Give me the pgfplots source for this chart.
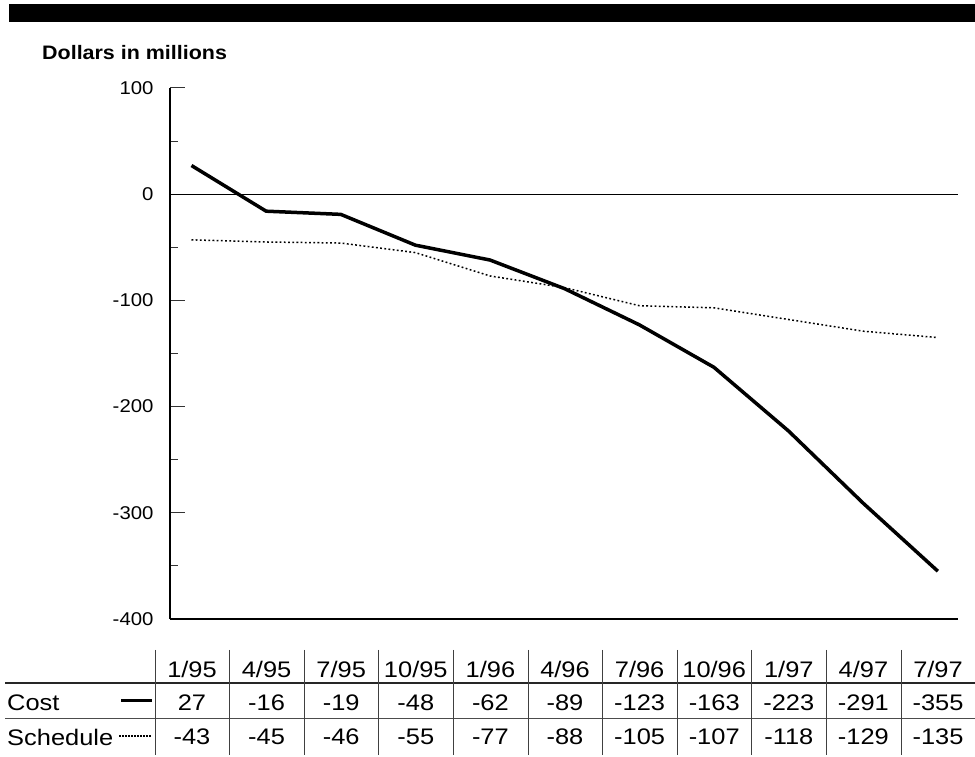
\documentclass[border=0pt]{standalone}
\usepackage{fontspec}
\setmainfont{Liberation Sans}[FakeStretch=1.1]
\newfontfamily\tablefont{Liberation Sans}[FakeStretch=1.13]
\usepackage{pgfplots}
\usepackage{pgfplotstable}
\pgfplotsset{compat=1.18}

% quarter, cost variance, schedule variance (dollars in millions)
\pgfplotstableread{
x cost sched
0 27 -43
1 -16 -45
2 -19 -46
3 -48 -55
4 -62 -77
5 -89 -88
6 -123 -105
7 -163 -107
8 -223 -118
9 -291 -129
10 -355 -135
}\variance

\begin{document}
\begin{tikzpicture}
\path[use as bounding box] (0pt,0pt) rectangle (975pt,757pt);
\fill[black] (9pt,735pt) rectangle (975pt,753pt);
\node[anchor=base west, inner sep=0pt, font=\fontsize{19.5}{22}\selectfont\bfseries] at (42pt,697pt) {Dollars in millions};

\begin{axis}[
  at={(170pt,138pt)}, anchor=south west,
  scale only axis, width=788pt, height=531pt,
  xmin=-0.288, xmax=10.27, ymin=-400, ymax=100,
  axis x line=bottom, axis y line=left,
  axis line style={-, line width=1.8pt},
  xtick=\empty,
  ytick={-400,-300,...,100},
  minor ytick={-350,-250,...,50},
  tick align=inside,
  major tick length=15pt, minor tick length=8pt,
  tick style={line width=1pt, black!80},
  yticklabel style={font=\fontsize{18.5}{20}\selectfont, xshift=-13pt},
  /pgf/number format/assume math mode=true,
  clip=false,
]
\addplot[line width=1.3pt, black, forget plot] coordinates {(-0.288,0) (10.27,0)};
\addplot[black, line width=1.5pt, dash pattern=on 1.8pt off 2.4pt] table[x=x, y=sched] {\variance};
\addplot[black, line width=3.5pt, line join=round] table[x=x, y=cost] {\variance};
\end{axis}

% data table under the chart
\begin{scope}[font=\tablefont\fontsize{22.5}{24}\selectfont]
\draw[line width=1.2pt, black!85] (5pt,74pt) -- (975pt,74pt);
\draw[line width=1pt, black!70] (5pt,38pt) -- (975pt,38pt);
\foreach \k in {0,...,10}
  \draw[line width=1pt, black!75] ({155pt+74.6pt*\k},107pt) -- ({155pt+74.6pt*\k},2pt);
\foreach \lab [count=\i from 0] in {{1/95},{4/95},{7/95},{10/95},{1/96},{4/96},{7/96},{10/96},{1/97},{4/97},{7/97}}
  \node at ({192pt+74.6pt*\i},88pt) {\lab};
\foreach \v [count=\i from 0] in {27,-16,-19,-48,-62,-89,-123,-163,-223,-291,-355}
  \node at ({192pt+74.6pt*\i},54pt) {\v};
\foreach \v [count=\i from 0] in {-43,-45,-46,-55,-77,-88,-105,-107,-118,-129,-135}
  \node at ({192pt+74.6pt*\i},20pt) {\v};
\node[anchor=west, inner sep=0pt] at (7pt,54pt) {Cost};
\node[anchor=west, inner sep=0pt] at (7pt,20pt) {Schedule};
\draw[line width=3pt] (121pt,56pt) -- (152pt,56pt);
\draw[line width=1.2pt, dash pattern=on 1.5pt off 1.5pt] (119pt,21pt) -- (152pt,21pt);
\end{scope}
\end{tikzpicture}
\end{document}
